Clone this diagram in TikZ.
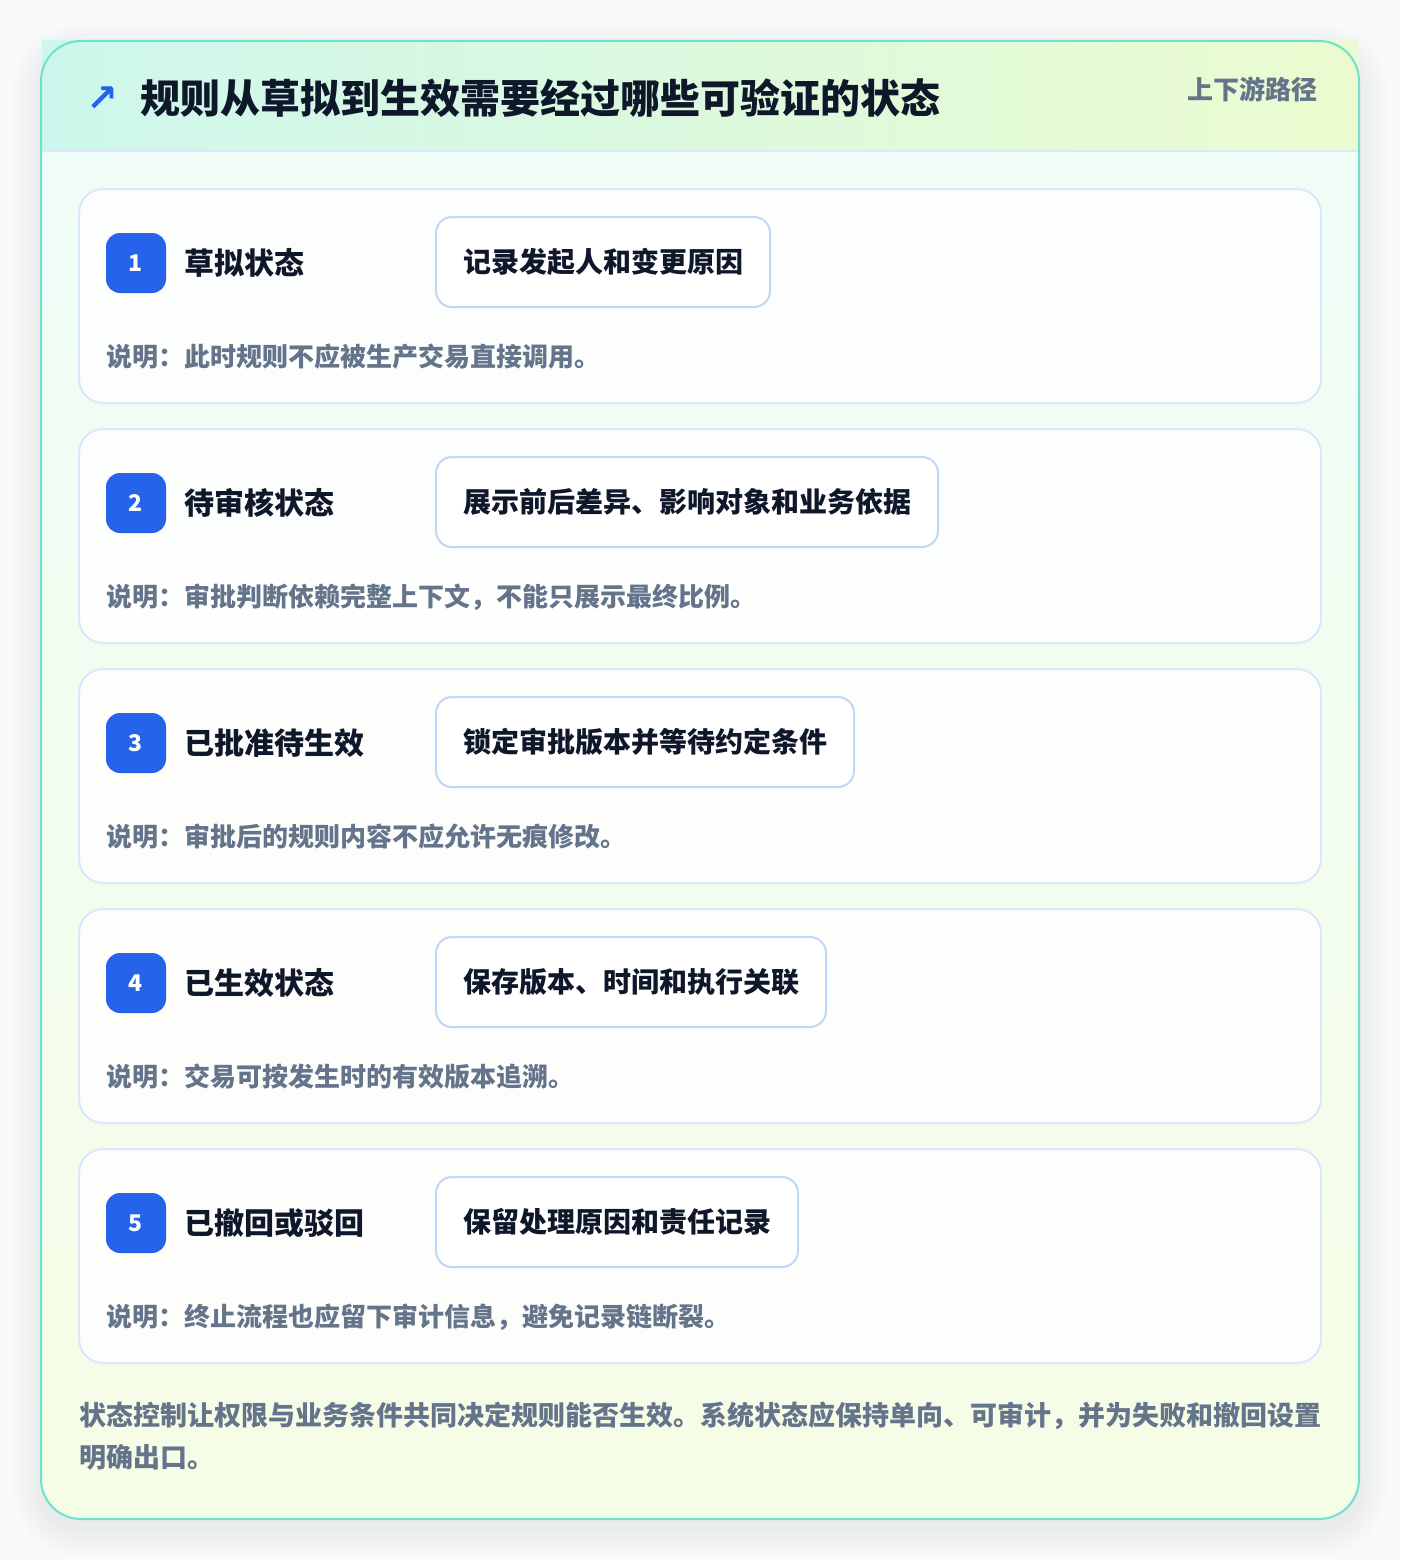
\documentclass[tikz,border=0pt]{standalone}
\usepackage{fontspec}
\setmainfont{Noto Sans CJK SC}
\newfontfamily\symfont{DejaVu Sans}
\usetikzlibrary{positioning}

\definecolor{pagebg}{HTML}{F9FAFB}
\definecolor{panelline}{HTML}{6EE2CC}
\definecolor{paneltop}{HTML}{EFFDF9}
\definecolor{panelbot}{HTML}{F6FDE6}
\definecolor{headleft}{HTML}{CDF7EC}
\definecolor{headright}{HTML}{EBFBCF}
\definecolor{cardline}{HTML}{DBE7FB}
\definecolor{taskline}{HTML}{BFD8F8}
\definecolor{badgeblue}{HTML}{2563EB}
\definecolor{inkdark}{HTML}{0F172A}
\definecolor{inkgray}{HTML}{64748B}

\tikzset{
  card/.style={draw=cardline, line width=2pt, fill=white, fill opacity=0.85, rounded corners=24pt,
    minimum width=1242pt, minimum height=214pt, inner sep=0pt},
  badge/.style={fill=badgeblue, rounded corners=14pt, minimum size=60pt, inner sep=0pt,
    text=white, font=\fontsize{23}{26}\selectfont\bfseries},
  statename/.style={inner sep=0pt, text=inkdark, font=\fontsize{30}{36}\selectfont\bfseries},
  taskbox/.style={draw=taskline, line width=2pt, fill=white, rounded corners=16pt,
    minimum height=90pt, inner xsep=27pt, inner ysep=0pt, text=inkdark,
    font=\fontsize{28}{34}\selectfont\bfseries},
  notetext/.style={inner sep=0pt, text=inkgray, font=\fontsize{26}{30}\selectfont\bfseries}
}

\begin{document}
\begin{tikzpicture}[x=1pt, y=-1pt]
  \useasboundingbox (0,0) rectangle (1400,1560);
  \fill[pagebg] (0,0) rectangle (1400,1560);

  % soft shadow of the panel
  \foreach \s in {2,4,...,30}
    \fill[black, opacity=0.0045, rounded corners=40pt+\s pt] (41-\s,41-\s+10) rectangle (1359+\s,1519+\s+10);

  % main panel
  \fill[rounded corners=40pt, top color=paneltop, bottom color=panelbot] (41,41) rectangle (1359,1519);
  \shade[left color=headleft, right color=headright] (42,41) rectangle (1358,151);
  \draw[cardline, line width=2pt] (42,151) -- (1358,151);
  \node[draw=panelline, line width=2pt, rounded corners=40pt, minimum width=1318pt, minimum height=1478pt,
    inner sep=0pt] (panel) at (700,780) {};

  % header
  \node[inner sep=0pt, text=badgeblue, font=\symfont\bfseries\fontsize{38}{44}\selectfont] (arrow) at (102,99) {↗};
  \node[anchor=west, inner sep=0pt, text=inkdark, font=\fontsize{40}{48}\selectfont\bfseries]
    (title) at (140,98) {规则从草拟到生效需要经过哪些可验证的状态};
  \node[anchor=east, inner sep=0pt, text=inkgray, font=\fontsize{26}{30}\selectfont\bfseries]
    (tag) at (1318,89) {上下游路径};

  % state cards
  \foreach \name/\task/\note [count=\i] in {
      草拟状态/记录发起人和变更原因/说明：此时规则不应被生产交易直接调用。,
      待审核状态/展示前后差异、影响对象和业务依据/说明：审批判断依赖完整上下文，不能只展示最终比例。,
      已批准待生效/锁定审批版本并等待约定条件/说明：审批后的规则内容不应允许无痕修改。,
      已生效状态/保存版本、时间和执行关联/说明：交易可按发生时的有效版本追溯。,
      已撤回或驳回/保留处理原因和责任记录/说明：终止流程也应留下审计信息，避免记录链断裂。}{
    \pgfmathsetmacro{\cardtop}{189+240*(\i-1)}
    \node[card] (card\i) at (700,\cardtop+107) {};
    \node[badge] (badge\i) at (136,\cardtop+74) {\i};
    \node[statename, right=18pt of badge\i] (name\i) {\name};
    \node[taskbox, anchor=west] (task\i) at (435,\cardtop+73) {\task};
    \node[notetext, anchor=west] (note\i) at (106,\cardtop+168) {\note};
  }

  % footer
  \node[anchor=west, inner sep=0pt, text=inkgray, align=left,
    font=\fontsize{27}{42}\selectfont\bfseries] (summary) at (79,1436)
    {状态控制让权限与业务条件共同决定规则能否生效。系统状态应保持单向、可审计，并为失败和撤回设置\\明确出口。};
\end{tikzpicture}
\end{document}
